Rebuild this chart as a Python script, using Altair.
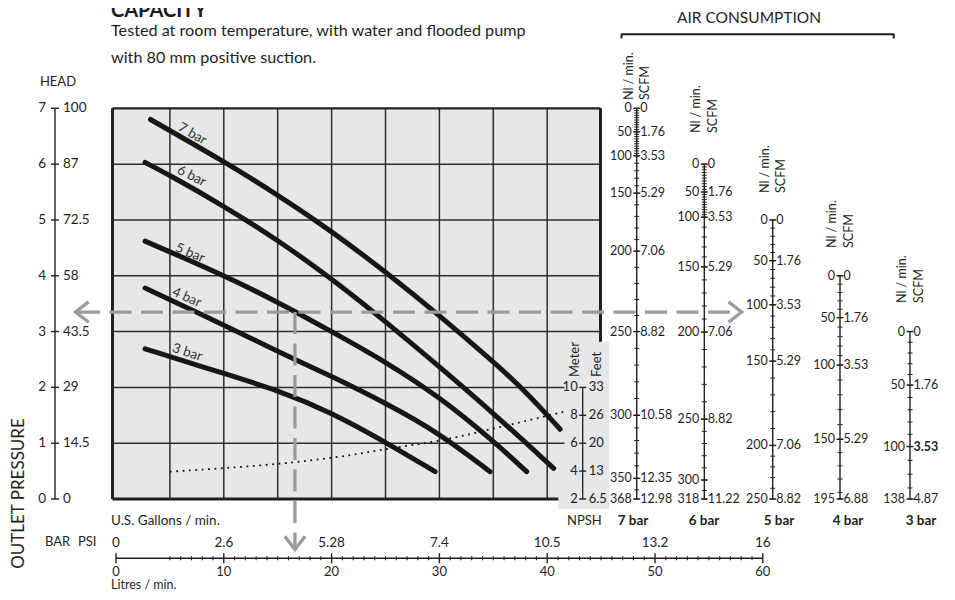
import altair as alt
import pandas as pd
import numpy as np

# ---------------- data ----------------
# pump curves: flow in litres/min, outlet pressure in bar
flow_7 = [3.2, 10, 15, 20, 25, 30, 35, 38, 41.2]
head_7 = [6.80, 6.05, 5.45, 4.80, 4.07, 3.29, 2.46, 1.93, 1.25]
flow_6 = [2.7, 5, 10, 15, 20, 25, 30, 35, 40.6]
head_6 = [6.03, 5.80, 5.25, 4.64, 3.95, 3.18, 2.37, 1.54, 0.55]
flow_5 = [2.7, 10, 15, 20, 25, 30, 35, 38.1]
head_5 = [4.62, 4.01, 3.53, 3.00, 2.46, 1.83, 1.04, 0.49]
flow_4 = [2.7, 10, 15, 20, 25, 30, 34.7]
head_4 = [3.78, 3.12, 2.64, 2.20, 1.72, 1.18, 0.49]
flow_3 = [2.7, 10, 15, 20, 25, 29.6]
head_3 = [2.69, 2.25, 1.95, 1.55, 1.02, 0.49]
curve_names = ["7 bar", "6 bar", "5 bar", "4 bar", "3 bar"]

# NPSH curve (metres)
npsh_flow = [5, 10, 16.6, 22, 25, 30, 35, 40, 41.6]
npsh_m = [3.96, 4.2, 4.6, 5.15, 5.6, 6.12, 7.05, 7.95, 8.26]

# example reading (dashed arrows)
example_flow = 16.6
example_bar = 3.35

# axes
bar_values = [0, 1, 2, 3, 4, 5, 6, 7]
psi_labels = ["0", "14.5", "29", "43.5", "58", "72.5", "87", "100"]
litres_major = [0, 10, 20, 30, 40, 50, 60]
litres_minor = [v for v in range(5, 60) if v % 10]
gallon_labels = ["0", "2.6", "5.28", "7.4", "10.5", "13.2", "16"]
npsh_meter = [2, 4, 6, 8, 10]
npsh_feet = ["6.5", "13", "20", "26", "33"]

# air consumption scales: Nl/min tick value, level (bar) it sits at, SCFM label
air_nl_7 = [0, 50, 100, 150, 200, 250, 300, 350, 368]
air_head_7 = [7.0, 6.58, 6.15, 5.48, 4.44, 3.0, 1.50, 0.37, 0.0]
air_scfm_7 = ["0", "1.76", "3.53", "5.29", "7.06", "8.82", "10.58", "12.35", "12.98"]
air_nl_6 = [0, 50, 100, 150, 200, 250, 300, 318]
air_head_6 = [6.0, 5.50, 5.05, 4.16, 2.99, 1.43, 0.34, 0.0]
air_scfm_6 = ["0", "1.76", "3.53", "5.29", "7.06", "8.82", "", "11.22"]
air_nl_5 = [0, 50, 100, 150, 200, 250]
air_head_5 = [5.0, 4.27, 3.48, 2.47, 0.96, 0.0]
air_scfm_5 = ["0", "1.76", "3.53", "5.29", "7.06", "8.82"]
air_nl_4 = [0, 50, 100, 150, 195]
air_head_4 = [4.0, 3.25, 2.40, 1.07, 0.0]
air_scfm_4 = ["0", "1.76", "3.53", "5.29", "6.88"]
air_nl_3 = [0, 50, 100, 138]
air_head_3 = [3.0, 2.04, 0.94, 0.0]
air_scfm_3 = ["0", "1.76", "3.53", "4.87"]

# ---------------- layout ----------------
PX0, PXS = 116.0, 10.78     # page px of 0 l/min, px per l/min
PY0, PYS = 499.0, 55.81     # page px of 0 bar, px per bar
def X(px): return (px - PX0) / PXS
def Y(py): return (PY0 - py) / PYS

W, H = 939, 584
xs = alt.Scale(domain=[X(8), X(8 + W)], nice=False, zero=False)
ys = alt.Scale(domain=[Y(8 + H), Y(8)], nice=False, zero=False)
FONT = "Lato"
TXT = "#231f20"
GRID = "#2e2e2e"
BG = "#e6e7e8"
DASH = "#9b9b9b"
NUM = 13.5
AIRNUM = 12.5

def ex(f="x"): return alt.X(f + ":Q", scale=xs, axis=None)
def ey(f="y"): return alt.Y(f + ":Q", scale=ys, axis=None)

def text_layer(df, align="center", baseline="middle", size=NUM, weight="normal",
               angle=0, dx=0, dy=0, color=TXT):
    return alt.Chart(df).mark_text(
        align=align, baseline=baseline, fontSize=size, fontWeight=weight, angle=angle,
        dx=dx, dy=dy, color=color, font=FONT
    ).encode(x=ex(), y=ey(), text="t:N")

def hrule(df, color=GRID, width=1.5, dash=None):
    kw = dict(color=color, strokeWidth=width)
    if dash: kw["strokeDash"] = dash
    return alt.Chart(df).mark_rule(**kw).encode(x=ex(), x2=alt.X2("x2:Q"), y=ey())

def vrule(df, color=GRID, width=1.5, dash=None):
    kw = dict(color=color, strokeWidth=width)
    if dash: kw["strokeDash"] = dash
    return alt.Chart(df).mark_rule(**kw).encode(x=ex(), y=ey(), y2=alt.Y2("y2:Q"))

def ticks(df, orient, size, thick=1.4, color=TXT):
    return alt.Chart(df).mark_tick(orient=orient, size=size, thickness=thick, color=color,
                                   opacity=1).encode(x=ex(), y=ey())

PL, PR = X(112.5), X(600.5)
layers = []

# plot background and grid
layers.append(alt.Chart(pd.DataFrame({"x": [PL], "x2": [PR], "y": [0], "y2": [7]}))
              .mark_rect(color=BG).encode(x=ex(), x2=alt.X2("x2:Q"), y=ey(), y2=alt.Y2("y2:Q")))
layers.append(vrule(pd.DataFrame({"x": list(range(5, 45, 5)), "y": 0, "y2": 7})))
layers.append(hrule(pd.DataFrame({"y": [3, 4, 5, 6], "x": PL, "x2": PR})))
# frame
layers.append(hrule(pd.DataFrame({"y": [7], "x": [PL], "x2": [PR]}), color=TXT, width=2.2))
layers.append(hrule(pd.DataFrame({"y": [0], "x": [PL], "x2": [PR]}), color=TXT, width=3))
layers.append(vrule(pd.DataFrame({"x": [PL, PR], "y": [0, 0], "y2": [7, 7]}), color=TXT, width=3))
# NPSH box
layers.append(alt.Chart(pd.DataFrame({"x": [X(558.3)], "x2": [X(609)], "y": [Y(341.7)], "y2": [Y(509)]}))
              .mark_rect(color=BG).encode(x=ex(), x2=alt.X2("x2:Q"), y=ey(), y2=alt.Y2("y2:Q")))
layers.append(hrule(pd.DataFrame({"y": [1, 2], "x": PL, "x2": X(564.5)})))

# NPSH scale (meters mapped onto pressure grid: 2 m at 0 bar, 10 m at 2 bar)
NX = X(582.7)
npsh_df = pd.DataFrame({"m": npsh_meter, "ft": npsh_feet})
npsh_df["y"] = (npsh_df["m"] - 2) / 4.0
npsh_df["x"] = NX
layers.append(vrule(pd.DataFrame({"x": [NX], "y": [0], "y2": [2]}), color=TXT, width=1.3))
layers.append(ticks(npsh_df, "horizontal", 7))
layers.append(text_layer(npsh_df.assign(t=npsh_df["m"].astype(str)), align="right", dx=-5, size=13))
layers.append(text_layer(npsh_df.assign(t=npsh_df["ft"]), align="left", dx=6, size=13))
layers.append(text_layer(pd.DataFrame({"x": [X(575), X(597)], "y": [Y(377), Y(377)], "t": ["Meter", "Feet"]}),
                         align="left", angle=270, size=13))
layers.append(text_layer(pd.DataFrame({"x": [X(567)], "y": [Y(521)], "t": ["NPSH"]}), align="left", size=13))

# pump curves
rows = []
for name, fl, hd in zip(curve_names, [flow_7, flow_6, flow_5, flow_4, flow_3],
                        [head_7, head_6, head_5, head_4, head_3]):
    for f, h in zip(fl, hd):
        rows.append({"curve": name, "x": f, "y": h})
curves = pd.DataFrame(rows)
layers.append(alt.Chart(curves).mark_line(color="#161616", strokeWidth=5, strokeCap="round",
                                          interpolate="basis")
              .encode(x=ex(), y=ey(), detail="curve:N"))

# NPSH dotted curve
npsh_line = pd.DataFrame({"x": npsh_flow, "m": npsh_m})
layers.append(alt.Chart(npsh_line).transform_calculate(y="(datum.m - 2) / 4")
              .mark_line(color="#111", strokeWidth=1.8, strokeDash=[1.8, 4.6], interpolate="basis")
              .encode(x=ex(), y=ey()))

# curve labels
lab_pos = [(192.3, 134), (191.7, 176), (190, 253), (186.7, 297.5), (187.3, 352.5)]
lab_ang = [30, 27, 23, 24, 18]
for name, (px, py), a in zip(curve_names, lab_pos, lab_ang):
    layers.append(text_layer(pd.DataFrame({"x": [X(px)], "y": [Y(py)], "t": [name]}), size=13.5, angle=a,
                             color="#333"))

# dashed example arrows
layers.append(hrule(pd.DataFrame({"y": [example_bar], "x": [X(78)], "x2": [X(739)]}), color=DASH, width=3.3,
                    dash=[22, 9.5]))
layers.append(vrule(pd.DataFrame({"x": [example_flow], "y": [example_bar], "y2": [Y(547)]}), color=DASH,
                    width=3.3, dash=[22, 9.5]))
arrow_defs = [
    (X(75.5), example_bar, "M1,-0.77L0,0L1,0.77"),
    (X(741.7), example_bar, "M-1,-0.77L0,0L-1,0.77"),
    (example_flow, Y(549.5), "M-0.77,-1L0,0L0.77,-1"),
]
for ax_, ay_, path in arrow_defs:
    layers.append(alt.Chart(pd.DataFrame({"x": [ax_], "y": [ay_]}))
                  .mark_point(shape=path, filled=False, size=700, strokeWidth=3.3, color=DASH, opacity=1,
                              strokeCap="butt")
                  .encode(x=ex(), y=ey()))

# left pressure axis
LX = X(55)
left_df = pd.DataFrame({"y": bar_values, "bar": [str(v) for v in bar_values], "psi": psi_labels})
left_df["x"] = LX
layers.append(vrule(pd.DataFrame({"x": [LX], "y": [0], "y2": [7]}), color=TXT, width=1.4))
layers.append(ticks(left_df, "horizontal", 8))
layers.append(text_layer(left_df.assign(t=left_df["bar"]), align="right", dx=-9))
layers.append(text_layer(left_df.assign(t=left_df["psi"]), align="left", dx=8))
layers.append(text_layer(pd.DataFrame({"x": [X(58)], "y": [Y(81.7)], "t": ["HEAD"]}), size=13))
layers.append(text_layer(pd.DataFrame({"x": [X(19)], "y": [Y(493.5)], "t": ["OUTLET PRESSURE"]}),
                         size=17, angle=270))
layers.append(text_layer(pd.DataFrame({"x": [X(45), X(78)], "y": [Y(541.7)] * 2, "t": ["BAR", "PSI"]}),
                         align="left", size=13))

# bottom flow axis
BY = Y(558.3)
layers.append(hrule(pd.DataFrame({"y": [BY], "x": [0], "x2": [60]}), color=TXT, width=1.4))
layers.append(ticks(pd.DataFrame({"x": litres_major, "y": BY}), "vertical", 10))
layers.append(ticks(pd.DataFrame({"x": litres_minor, "y": BY}), "vertical", 4, thick=1.1))
layers.append(text_layer(pd.DataFrame({"x": litres_major, "y": Y(572), "t": [str(v) for v in litres_major]}),
                         size=13))
layers.append(text_layer(pd.DataFrame({"x": litres_major, "y": Y(543), "t": gallon_labels})))
layers.append(text_layer(pd.DataFrame({"x": [X(111)], "y": [Y(521)], "t": ["U.S. Gallons / min."]}),
                         align="left", size=13.5))
layers.append(text_layer(pd.DataFrame({"x": [X(111)], "y": [Y(592)], "t": ["Litres / min."]}),
                         align="left", baseline="bottom", size=12.5))

# air consumption scales
air_sets = [
    ("7 bar", air_nl_7, air_head_7, air_scfm_7, list(range(0, 100, 5)) + list(range(100, 368, 10)) + [368]),
    ("6 bar", air_nl_6, air_head_6, air_scfm_6, list(range(0, 100, 5)) + list(range(100, 318, 10)) + [318]),
    ("5 bar", air_nl_5, air_head_5, air_scfm_5, list(range(0, 251, 10))),
    ("4 bar", air_nl_4, air_head_4, air_scfm_4, list(range(0, 195, 10)) + [195]),
    ("3 bar", air_nl_3, air_head_3, air_scfm_3, list(range(0, 138, 10)) + [138]),
]
AIR_X_PX = [636.7, 704.3, 772.7, 840, 910]
AIR_TITLE_BOTTOM = [100, 133, 193, 248, 303]
AIR_NAME_X = [633, 704, 779, 848, 921]
for (name, nl, hd, scfm, minor), axpx, tb, nx in zip(air_sets, AIR_X_PX, AIR_TITLE_BOTTOM, AIR_NAME_X):
    ax_ = X(axpx)
    major = pd.DataFrame({"nl": nl, "y": hd, "scfm": scfm})
    major["x"] = ax_
    mt = pd.DataFrame({"nl": minor})
    mt["y"] = np.interp(mt["nl"], nl, hd)  # position on this (non-linear) scale
    mt["x"] = ax_
    layers.append(vrule(pd.DataFrame({"x": [ax_], "y": [0], "y2": [hd[0]]}), color=TXT, width=1.4))
    layers.append(ticks(mt, "horizontal", 5, thick=1.0))
    layers.append(ticks(major, "horizontal", 7, thick=1.4))
    layers.append(text_layer(major.assign(t=major["nl"].astype(str)), align="right", dx=-5, size=AIRNUM))
    bold_test = "datum.t == '3.53' && %s" % ("true" if name == "3 bar" else "false")
    sc = major.assign(t=major["scfm"])
    layers.append(text_layer(sc, align="left", dx=3.5, size=AIRNUM).transform_filter("!(" + bold_test + ")"))
    layers.append(text_layer(sc, align="left", dx=3.5, weight="bold", size=AIRNUM).transform_filter(bold_test))
    layers.append(text_layer(pd.DataFrame({"x": [X(axpx - 8), X(axpx + 8.5)], "y": [Y(tb)] * 2,
                                           "t": ["Nl / min.", "SCFM"]}), align="left", angle=270, size=12.5))
    layers.append(text_layer(pd.DataFrame({"x": [X(nx)], "y": [Y(521)], "t": [name]}), weight="bold", size=13.5))

# bracket + titles
layers.append(hrule(pd.DataFrame({"y": [Y(34.3)], "x": [X(621)], "x2": [X(894.3)]}), color=TXT, width=2))
layers.append(vrule(pd.DataFrame({"x": [X(621.5), X(893.8)], "y": [Y(34.3)] * 2, "y2": [Y(38.5)] * 2}),
                    color=TXT, width=2))
layers.append(text_layer(pd.DataFrame({"x": [X(749)], "y": [Y(17.5)], "t": ["AIR CONSUMPTION"]}), size=15.5))
layers.append(text_layer(pd.DataFrame({"x": [X(111)], "y": [Y(17)], "t": ["CAPACITY"]}),
                         align="left", baseline="alphabetic", size=20, weight="bold", color="#1a1a1a"))
layers.append(text_layer(pd.DataFrame({"x": [X(111), X(111)], "y": [Y(36), Y(63.3)],
                                       "t": ["Tested at room temperature, with water and flooded pump",
                                             "with 80 mm positive suction."]}),
                         align="left", baseline="alphabetic", size=16.2))

chart = alt.layer(*layers).properties(
    width=W, height=H, padding=0, autosize=alt.AutoSizeParams(type="none"), background="white"
).configure_view(strokeWidth=0)

chart.save("out.html", embed_options={"renderer": "svg", "actions": False})
